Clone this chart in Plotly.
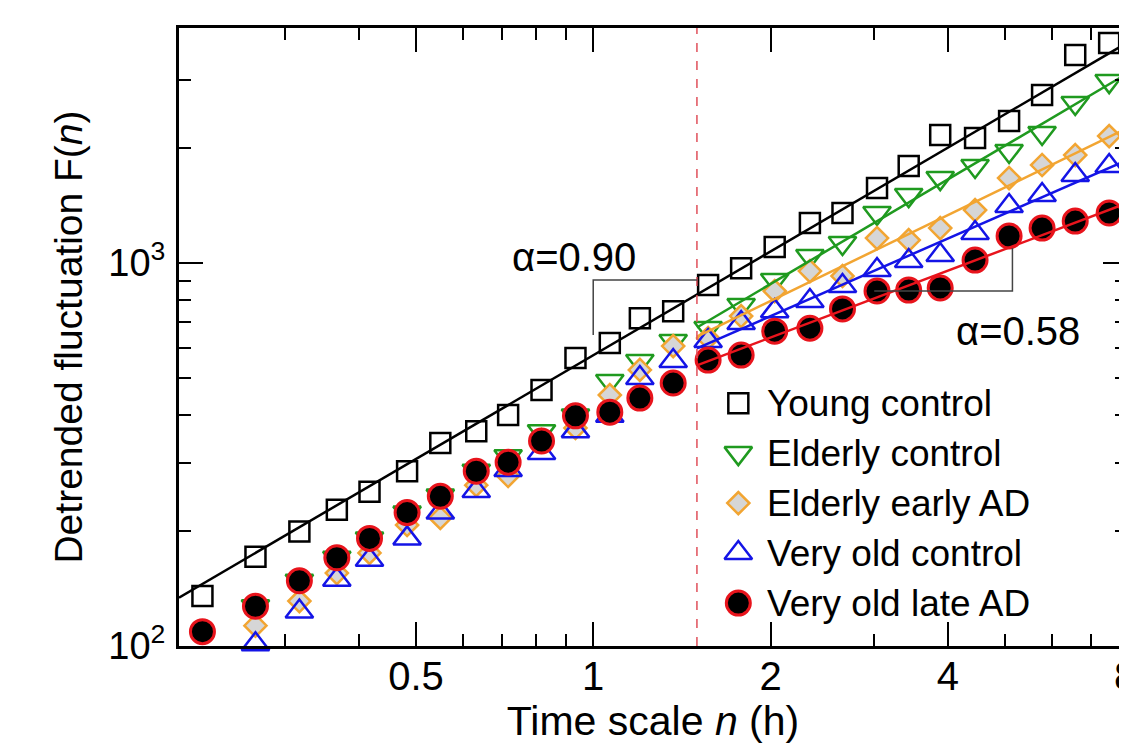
"""DFA 圖：Detrended fluctuation vs time scale (log-log)"""
import numpy as np
import plotly.graph_objects as go

# 時間尺度 (h)
n_hours = [0.217, 0.267, 0.317, 0.367, 0.417, 0.483, 0.550, 0.633, 0.717,
           0.817, 0.933, 1.067, 1.200, 1.367, 1.567, 1.783, 2.033, 2.333,
           2.650, 3.033, 3.433, 3.883, 4.450, 5.083, 5.783, 6.583, 7.517]

young_control = [135, 171, 199, 227, 253, 286, 339, 364, 401, 466, 565, 618, 718,
                 749, 876, 970, 1101, 1272, 1351, 1570, 1792, 2159, 2121, 2349,
                 2746, 3492, 3753]
# 第一個點被紅圈蓋住，看不到
elderly_control = [None, 127, 148, 170, 191, 223, 247, 287, 313, 364, 400, 492, 555,
                   626, 677, 777, 903, 1043, 1128, 1351, 1505, 1667, 1792, 1961,
                   2185, 2617, 2987]
elderly_early_ad = [None, 113, 131, 155, 175, 207, 216, 263, 278, 345, 371, 452, 526,
                    607, 637, 727, 845, 953, 925, 1162, 1148, 1234, 1375, 1667,
                    1803, 1914, 2146]
very_old_control = [None, 101, 123, 149, 168, 191, 223, 254, 288, 319, 364, 399, 501,
                    555, 626, 697, 749, 796, 871, 959, 1012, 1049, 1198, 1409,
                    1505, 1697, 1792]
very_old_late_ad = [109, 127, 148, 170, 191, 223, 246, 286, 302, 343, 399, 408, 444,
                    486, 558, 575, 664, 676, 759, 845, 850, 861, 1018, 1177, 1234,
                    1287, 1351]

# 圖上標示的斜率
alpha_young = 0.90
alpha_late_ad = 0.58

x_range = [0.198, 8.06]
y_range = [100, 4110]
crossover = 1.5      # 虛線位置 (h)
fit_end = 7.85

x_ticks = [0.5, 1, 2, 4, 8]
x_minor = [0.3, 0.4, 0.6, 0.7, 0.8, 0.9, 3, 5, 6, 7]
y_ticks = [100, 1000]
y_ticktext = ["10<sup>2</sup>", "10<sup>3</sup>"]
y_minor = [200, 300, 400, 500, 600, 700, 800, 900, 2000, 3000]

# 括號標示線
bracket_090_n = [1.0, 1.0, 1.5]
bracket_090_f = [649, 903, 903]
bracket_058_n = [3.0, 5.15, 5.15]
bracket_058_f = [845, 845, 1094]

FONT = "Liberation Sans, Arial, Helvetica, sans-serif"
GREEN = "#1f9a1f"
ORANGE = "#f2a532"
BLUE = "#1414e6"
RED = "#e8141c"

groups = [
    ("Young control", young_control, "black", alpha_young,
     dict(symbol="square-open", size=20, color="black", line=dict(width=2.5, color="black"))),
    ("Elderly control", elderly_control, GREEN, None,
     dict(symbol="triangle-down-open", size=24, color=GREEN, line=dict(width=2.5, color=GREEN))),
    ("Elderly early AD", elderly_early_ad, ORANGE, None,
     dict(symbol="diamond", size=17, color="#d6d6d6", line=dict(width=2.5, color=ORANGE))),
    ("Very old control", very_old_control, BLUE, None,
     dict(symbol="triangle-up-open", size=24, color=BLUE, line=dict(width=2.5, color=BLUE))),
    ("Very old late AD", very_old_late_ad, RED, alpha_late_ad,
     dict(symbol="circle", size=24, color="black", line=dict(width=3, color=RED))),
]

fig = go.Figure()

# 資料點
for name, values, color, alpha, marker in groups:
    fig.add_trace(go.Scatter(
        x=n_hours, y=values, mode="markers", name=name,
        marker=marker, cliponaxis=False, showlegend=False
    ))

# 擬合直線 (log-log)；有標示斜率者固定斜率，只擬合截距
n_arr = np.array(n_hours)
for idx, (name, values, color, alpha, marker) in enumerate(groups):
    f_arr = np.array([np.nan if v is None else v for v in values], dtype=float)
    if idx == 0:
        mask = np.isfinite(f_arr)
        x_fit = np.array([x_range[0], fit_end])
    else:
        mask = (n_arr >= crossover) & np.isfinite(f_arr)
        x_fit = np.array([crossover, fit_end])
    lx, ly = np.log10(n_arr[mask]), np.log10(f_arr[mask])
    if alpha is None:
        slope, intercept = np.polyfit(lx, ly, 1)
    else:
        slope = alpha
        intercept = np.mean(ly - slope * lx)
    y_fit = 10 ** (intercept + slope * np.log10(x_fit))
    fig.add_trace(go.Scatter(
        x=x_fit, y=y_fit, mode="lines", showlegend=False,
        line=dict(color=color, width=2.5), hoverinfo="skip"
    ))

# 交界虛線
fig.add_trace(go.Scatter(
    x=[crossover, crossover], y=y_range, mode="lines", showlegend=False,
    line=dict(color="#e0505a", width=1.5, dash="dash"), hoverinfo="skip"
))

# 括號
for bx, by in [(bracket_090_n, bracket_090_f), (bracket_058_n, bracket_058_f)]:
    fig.add_trace(go.Scatter(
        x=bx, y=by, mode="lines", showlegend=False,
        line=dict(color="#444444", width=1.5), hoverinfo="skip"
    ))

fig.add_annotation(text="\u03b1=0.90", xref="paper", yref="paper", x=0.4167, y=0.6294,
                   xanchor="center", yanchor="middle", showarrow=False,
                   font=dict(size=40, family=FONT, color="black"))
fig.add_annotation(text="\u03b1=0.58", xref="paper", yref="paper", x=0.885, y=0.5097,
                   xanchor="center", yanchor="middle", showarrow=False,
                   font=dict(size=40, family=FONT, color="black"))

# 圖例：內建圖例的符號會被縮小，改用疊加座標軸畫符號 + 文字
legend_marker_x = 0.590
legend_text_x = 0.618
legend_top_y = 0.393
legend_step = 0.0809
for i, (name, values, color, alpha, marker) in enumerate(groups):
    ly_pos = legend_top_y - i * legend_step
    fig.add_trace(go.Scatter(
        x=[legend_marker_x], y=[ly_pos], mode="markers", marker=marker,
        xaxis="x2", yaxis="y2", showlegend=False, hoverinfo="skip", cliponaxis=False
    ))
    fig.add_annotation(text=name, xref="paper", yref="paper", x=legend_text_x, y=ly_pos,
                       xanchor="left", yanchor="middle", showarrow=False,
                       font=dict(size=37, family=FONT, color="black"))

axis_common = dict(
    type="log", showgrid=False, zeroline=False, automargin=False,
    showline=True, linewidth=3, linecolor="black", mirror="allticks",
    ticks="inside", ticklen=24, tickwidth=2, tickcolor="black",
    ticklabeloverflow="allow",
)

fig.update_layout(
    xaxis=dict(
        **axis_common,
        range=[np.log10(x_range[0]), np.log10(x_range[1])],
        tickvals=x_ticks, ticktext=[str(v) for v in x_ticks],
        tickfont=dict(size=40, family=FONT, color="black"),
        ticklabelstandoff=-7,
        minor=dict(tickvals=x_minor, ticks="inside", ticklen=12, tickwidth=2,
                   tickcolor="black", showgrid=False),
        title=dict(text="Time scale <i>n</i> (h)", font=dict(size=41, family=FONT), standoff=6),
    ),
    yaxis=dict(
        **axis_common,
        range=[np.log10(y_range[0]), np.log10(y_range[1])],
        tickvals=y_ticks, ticktext=y_ticktext,
        tickfont=dict(size=38, family=FONT, color="black"),
        ticklabelstandoff=3,
        minor=dict(tickvals=y_minor, ticks="inside", ticklen=12, tickwidth=2,
                   tickcolor="black", showgrid=False),
        title=dict(text="Detrended fluctuation F(<i>n</i>)", font=dict(size=39, family=FONT), standoff=14),
    ),
    xaxis2=dict(overlaying="x", range=[0, 1], visible=False, fixedrange=True),
    yaxis2=dict(overlaying="y", range=[0, 1], visible=False, fixedrange=True),
    width=1127, height=746,
    margin=dict(l=171, r=8, t=20, b=108),
    plot_bgcolor="white", paper_bgcolor="white",
    font=dict(family=FONT, size=36, color="black"),
    showlegend=False,
    hovermode=False,
)

fig.write_html("out.html")
